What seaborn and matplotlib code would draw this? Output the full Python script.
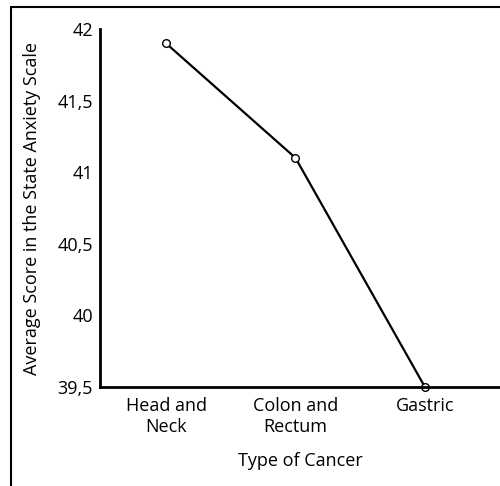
import matplotlib
matplotlib.use("Agg")
import matplotlib.pyplot as plt
import seaborn as sns
import pandas as pd
from matplotlib.lines import Line2D

# Data
cancer_types = ["Head and\nNeck", "Colon and\nRectum", "Gastric"]
anxiety_scores = [41.9, 41.1, 39.5]
y_ticks = [39.5, 40, 40.5, 41, 41.5, 42]
y_labels = ["39,5", "40", "40,5", "41", "41,5", "42"]

df = pd.DataFrame({"type": cancer_types, "score": anxiety_scores})

sns.set_style("white")
plt.rcParams["font.family"] = ["Open Sans", "DejaVu Sans"]
plt.rcParams["text.color"] = "black"
plt.rcParams["axes.labelcolor"] = "black"

fig = plt.figure(figsize=(5, 4.86), dpi=100)
ax = fig.add_axes([0.2, 0.2037, 0.8, 0.7366])

sns.lineplot(data=df, x="type", y="score", ax=ax, sort=False,
             color="black", linewidth=1.6, marker="o", markersize=5.5,
             markerfacecolor="white", markeredgecolor="black",
             markeredgewidth=1.0, clip_on=False)

ax.set_ylim(39.5, 42)
ax.set_xlim(-0.51, 2.58)
ax.set_yticks(y_ticks)
ax.set_yticklabels(y_labels)
ax.tick_params(axis="y", length=0, labelsize=13, colors="black", pad=5)
ax.tick_params(axis="x", length=0, labelsize=13, colors="black", pad=7)
ax.set_xlabel("Type of Cancer", fontsize=13, labelpad=12, color="black")
ax.set_ylabel("Average Score in the State Anxiety Scale", fontsize=13,
              labelpad=12, color="black")

sns.despine(ax=ax)
for s in ["left", "bottom"]:
    ax.spines[s].set_color("black")
    ax.spines[s].set_linewidth(2)

# partial frame around the figure (top and left edges)
fig.add_artist(Line2D([0.022, 1.0], [0.986, 0.986], color="black", lw=1.5))
fig.add_artist(Line2D([0.022, 0.022], [0.0, 0.986], color="black", lw=1.5))

fig.savefig("out.png", dpi=100)
